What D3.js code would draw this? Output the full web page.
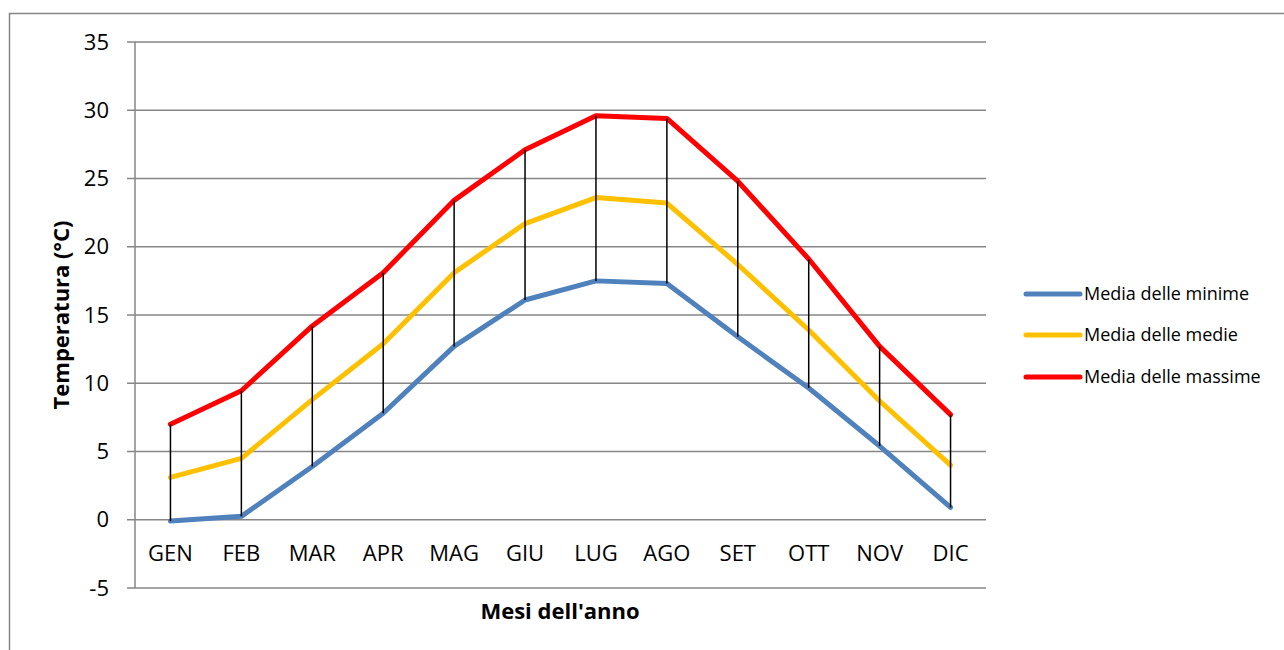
<!DOCTYPE html>
<html>
<head>
<meta charset="utf-8">
<script src="https://cdn.jsdelivr.net/npm/d3@7"></script>
<style>
  body { margin: 0; background: #fff; }
  svg { display: block; font-family: 'Open Sans', 'Noto Sans', sans-serif; }
</style>
</head>
<body>
<svg id="chart" width="1284" height="650"></svg>
<script>
const months = ['GEN', 'FEB', 'MAR', 'APR', 'MAG', 'GIU', 'LUG', 'AGO', 'SET', 'OTT', 'NOV', 'DIC'];
const minime = [-0.1, 0.25, 3.9, 7.8, 12.7, 16.1, 17.5, 17.3, 13.4, 9.65, 5.4, 0.9];
const medie = [3.1, 4.5, 8.8, 12.9, 18.1, 21.7, 23.6, 23.2, 18.7, 13.9, 8.7, 4.0];
const massime = [7.0, 9.45, 14.2, 18.1, 23.4, 27.1, 29.6, 29.4, 24.8, 19.1, 12.7, 7.7];
const yTicks = [-5, 0, 5, 10, 15, 20, 25, 30, 35];

const series = [
    { name: 'Media delle minime', values: minime, color: '#4F81BD' },
    { name: 'Media delle medie', values: medie, color: '#FFC000' },
    { name: 'Media delle massime', values: massime, color: '#FF0000' }
];

const svg = d3.select('#chart');

// outer frame
svg.append('rect')
    .attr('x', 9.5).attr('y', 13.5)
    .attr('width', 1300).attr('height', 700)
    .attr('fill', 'none')
    .attr('stroke', '#868686')
    .attr('stroke-width', 1.5);

const left = 135, right = 986;

const x = d3.scaleBand()
    .domain(months)
    .range([left, right]);

const y = d3.scaleLinear()
    .domain([-5, 35])
    .range([588, 42]);

// gridlines
svg.append('g')
    .selectAll('line')
    .data(yTicks)
    .enter()
    .append('line')
    .attr('x1', left - 8)
    .attr('x2', right)
    .attr('y1', d => y(d))
    .attr('y2', d => y(d))
    .attr('stroke', '#868686')
    .attr('stroke-width', 1.5);

// y axis line
svg.append('line')
    .attr('x1', left).attr('x2', left)
    .attr('y1', y(35)).attr('y2', y(-5))
    .attr('stroke', '#868686')
    .attr('stroke-width', 1.5);

// y tick labels
svg.append('g')
    .selectAll('text')
    .data(yTicks)
    .enter()
    .append('text')
    .attr('x', 109)
    .attr('y', d => y(d))
    .attr('dy', '0.35em')
    .attr('text-anchor', 'end')
    .style('font-size', '22px')
    .text(d => d);

// x category labels
svg.append('g')
    .selectAll('text')
    .data(months)
    .enter()
    .append('text')
    .attr('x', d => x(d) + x.bandwidth() / 2)
    .attr('y', 553)
    .attr('dy', '0.35em')
    .attr('text-anchor', 'middle')
    .style('font-size', '22px')
    .text(d => d);

const lineGen = d3.line()
    .x((d, i) => x(months[i]) + x.bandwidth() / 2)
    .y(d => y(d));

series.forEach(s => {
    svg.append('path')
        .attr('d', lineGen(s.values))
        .attr('fill', 'none')
        .attr('stroke', s.color)
        .attr('stroke-width', 5)
        .attr('stroke-linejoin', 'round')
        .attr('stroke-linecap', 'round');
});

// high-low lines
svg.append('g')
    .selectAll('line')
    .data(months)
    .enter()
    .append('line')
    .attr('x1', d => x(d) + x.bandwidth() / 2)
    .attr('x2', d => x(d) + x.bandwidth() / 2)
    .attr('y1', (d, i) => y(massime[i]))
    .attr('y2', (d, i) => y(minime[i]))
    .attr('stroke', '#000')
    .attr('stroke-width', 1.5);

// axis titles
svg.append('text')
    .attr('transform', 'translate(61,315) rotate(-90)')
    .attr('text-anchor', 'middle')
    .attr('dy', '0.35em')
    .style('font-size', '22px')
    .style('font-weight', 'bold')
    .text('Temperatura (°C)');

svg.append('text')
    .attr('x', 560)
    .attr('y', 611)
    .attr('dy', '0.35em')
    .attr('text-anchor', 'middle')
    .style('font-size', '22px')
    .style('font-weight', 'bold')
    .text("Mesi dell'anno");

// legend
const legend = svg.append('g');
const legendY = [294, 335, 377];
series.forEach((s, i) => {
    legend.append('line')
        .attr('x1', 1026).attr('x2', 1080)
        .attr('y1', legendY[i]).attr('y2', legendY[i])
        .attr('stroke', s.color)
        .attr('stroke-width', 5)
        .attr('stroke-linecap', 'round');
    legend.append('text')
        .attr('x', 1084)
        .attr('y', legendY[i])
        .attr('dy', '0.35em')
        .style('font-size', '18px')
        .text(s.name);
});
</script>
</body>
</html>
